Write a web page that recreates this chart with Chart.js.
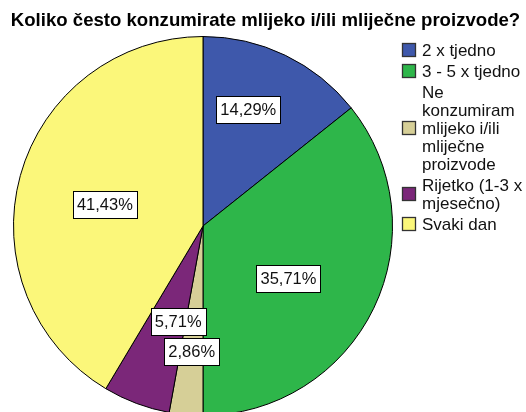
<!DOCTYPE html>
<html>
<head>
<meta charset="utf-8">
<script src="https://cdn.jsdelivr.net/npm/chart.js@4"></script>
<style>
  html, body { margin: 0; padding: 0; background: #fff; overflow: hidden; }
  #pie { display: block; }
</style>
</head>
<body>
<canvas id="pie" width="526" height="420"></canvas>
<script>
// data
const titleText = 'Koliko često konzumirate mlijeko i/ili mliječne proizvode?';
const categories = [
    ['2 x tjedno'],
    ['3 - 5 x tjedno'],
    ['Ne', 'konzumiram', 'mlijeko i/ili', 'mliječne', 'proizvode'],
    ['Rijetko (1-3 x', 'mjesečno)'],
    ['Svaki dan']
];
const percents = [14.29, 35.71, 2.86, 5.71, 41.43];
const sliceColors = ['#3e58ab', '#2eb64a', '#d6cf97', '#7b2779', '#fbf77a'];

const FONT = '"Liberation Sans", Arial, sans-serif';

// SPSS style: title, side legend, boxed % labels
const spssDecor = {
    id: 'spssDecor',
    afterDraw(chart, args, opts) {
        const ctx = chart.ctx;
        const meta = chart.getDatasetMeta(0);
        ctx.save();

        // title
        ctx.font = 'bold 18.6px ' + FONT;
        ctx.fillStyle = '#000';
        ctx.textAlign = 'center';
        ctx.textBaseline = 'alphabetic';
        ctx.fillText(titleText, 265.5, 26);

        // value labels in white boxes
        ctx.font = '16.5px ' + FONT;
        ctx.textBaseline = 'middle';
        meta.data.forEach((arc, i) => {
            const p = opts.labelPos[i];
            const mid = (arc.startAngle + arc.endAngle) / 2 + p.da * Math.PI / 180;
            const r = arc.outerRadius * p.r;
            const x = arc.x + Math.cos(mid) * r;
            const y = arc.y + Math.sin(mid) * r;
            const txt = percents[i].toFixed(2).replace('.', ',') + '%';
            const w = Math.round(ctx.measureText(txt).width + 8);
            const h = 27;
            const bx = Math.round(x - w / 2) + 0.5, by = Math.round(y - h / 2) + 0.5;
            ctx.fillStyle = '#fff';
            ctx.fillRect(bx, by, w, h);
            ctx.strokeStyle = '#000';
            ctx.lineWidth = 1;
            ctx.strokeRect(bx, by, w, h);
            ctx.fillStyle = '#111';
            ctx.textAlign = 'center';
            ctx.fillText(txt, x, y + 1);
        });

        // legend
        ctx.font = '17px ' + FONT;
        ctx.textAlign = 'left';
        ctx.textBaseline = 'alphabetic';
        let y = 49.5;
        const lineH = 18, gap = 3;
        chart.data.labels.forEach((lines, i) => {
            const mid = y + (lines.length - 1) * lineH / 2;
            ctx.fillStyle = sliceColors[i];
            ctx.fillRect(402.5, Math.round(mid - 7) + 0.5, 13, 13);
            ctx.strokeStyle = '#333';
            ctx.lineWidth = 1.3;
            ctx.strokeRect(402.5, Math.round(mid - 7) + 0.5, 13, 13);
            ctx.fillStyle = '#111';
            lines.forEach((ln, k) => ctx.fillText(ln, 422, y + k * lineH + 6.3));
            y += lines.length * lineH + gap;
        });
        ctx.restore();
    }
};

new Chart(document.getElementById('pie'), {
    type: 'pie',
    data: {
        labels: categories,
        datasets: [{
            data: percents,
            backgroundColor: sliceColors,
            borderColor: '#000',
            borderWidth: 1
        }]
    },
    options: {
        responsive: false,
        animation: false,
        layout: { padding: { left: 13, top: 36, right: 133, bottom: 4 } },
        plugins: {
            legend: { display: false },
            title: { display: false },
            tooltip: { enabled: false },
            spssDecor: {
                labelPos: [
                    { r: 0.66, da: -4.5 },
                    { r: 0.53, da: 6 },
                    { r: 0.665, da: 0 },
                    { r: 0.52, da: -6 },
                    { r: 0.53, da: -3 }
                ]
            }
        }
    },
    plugins: [spssDecor]
});
</script>
</body>
</html>
